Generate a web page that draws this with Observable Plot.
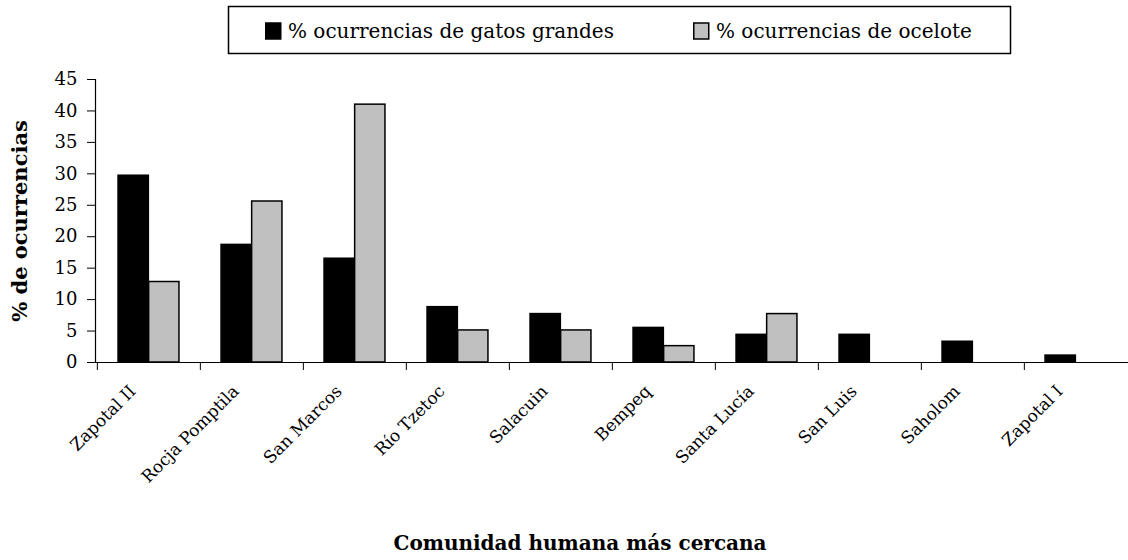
<!DOCTYPE html>
<html>
<head>
<meta charset="utf-8">
<script src="https://cdn.jsdelivr.net/npm/d3@7"></script>
<script src="https://cdn.jsdelivr.net/npm/@observablehq/plot@0.6"></script>
<style>
  html, body { margin: 0; padding: 0; background: #fff; }
  body { width: 1128px; height: 560px; position: relative; overflow: hidden; }
  #legend { position: absolute; left: 0; top: 0; }
  #chart { position: absolute; left: 0; top: 58px; }
</style>
</head>
<body>
<div id="legend"></div>
<div id="chart"></div>
<script>
const categories = ["Zapotal II","Rocja Pomptila","San Marcos","Río Tzetoc","Salacuin","Bempeq","Santa Lucía","San Luis","Saholom","Zapotal I"];
const gatosGrandes = [29.7, 18.7, 16.5, 8.8, 7.7, 5.5, 4.4, 4.4, 3.3, 1.1];
const ocelote = [12.8, 25.6, 41.0, 5.1, 5.1, 2.6, 7.7, 0, 0, 0];
const seriesNames = ["% ocurrencias de gatos grandes", "% ocurrencias de ocelote"];
const seriesColors = ["#000000", "#c0c0c0"];
const yTicks = [0, 5, 10, 15, 20, 25, 30, 35, 40, 45];
const xTitle = "Comunidad humana más cercana";
const yTitle = "% de ocurrencias";

// legend (SVG, above the chart)
const lg = d3.create("svg").attr("width", 1128).attr("height", 58)
  .style("font-family", "DejaVu Serif, serif");
lg.append("rect").attr("x", 228.5).attr("y", 6.5).attr("width", 782).attr("height", 47)
  .attr("fill", "none").attr("stroke", "#000").attr("stroke-width", 1.5);
const legendX = [265, 693];
seriesNames.forEach((name, i) => {
  lg.append("rect").attr("x", legendX[i] + 0.75).attr("y", 23).attr("width", 15).attr("height", 16)
    .attr("fill", seriesColors[i]).attr("stroke", "#000").attr("stroke-width", 1.5);
  lg.append("text").attr("x", legendX[i] + 23).attr("y", 37.5).attr("font-size", 20)
    .attr("fill", "#000").text(name);
});
document.getElementById("legend").appendChild(lg.node());

const data = categories.map((c, i) => ({category: c, gatos: gatosGrandes[i], ocelote: ocelote[i]}));

const W = 1128, H = 502, mL = 95, mR = 0, mT = 21, mB = 198;
const bw = (W - mL - mR) / categories.length;
const barW = 30.6;
const outer = (bw - 2 * barW) / 2;

const chart = Plot.plot({
  width: W,
  height: H,
  marginLeft: mL,
  marginRight: mR,
  marginTop: mT,
  marginBottom: mB,
  style: {fontFamily: "DejaVu Serif, serif", color: "#000", background: "#fff"},
  x: {domain: categories, padding: 0, axis: null},
  y: {domain: [0, 45], axis: null},
  marks: [
    Plot.barY(data, {x: "category", y: "gatos", fill: seriesColors[0], stroke: "#000", strokeWidth: 1.5,
      insetLeft: outer, insetRight: bw - outer - barW}),
    Plot.barY(data.filter(d => d.ocelote > 0), {x: "category", y: "ocelote", fill: seriesColors[1], stroke: "#000", strokeWidth: 1.5,
      insetLeft: outer + barW, insetRight: outer}),
    Plot.ruleY([0], {stroke: "#000", strokeWidth: 1.2}),
    Plot.frame({anchor: "left", stroke: "#000", strokeWidth: 1.2}),
    Plot.axisY({ticks: yTicks, tickSize: 8, tickPadding: 10, fontSize: 18, label: null, stroke: "#000"}),
    Plot.axisX({tickSize: 8, tickFormat: () => "", dx: -bw / 2, label: null}),
    Plot.axisX({tickSize: 0, tickRotate: -45, tickPadding: 18, dx: -16, dy: 8, fontSize: 17, label: null}),
    Plot.text([yTitle], {frameAnchor: "left", textAnchor: "middle", rotate: -90, dx: -75, fontSize: 21, fontWeight: "bold"}),
    Plot.text([xTitle], {frameAnchor: "bottom", dx: -32, dy: 187, fontSize: 20, fontWeight: "bold"})
  ]
});
document.getElementById("chart").appendChild(chart);
</script>
</body>
</html>
